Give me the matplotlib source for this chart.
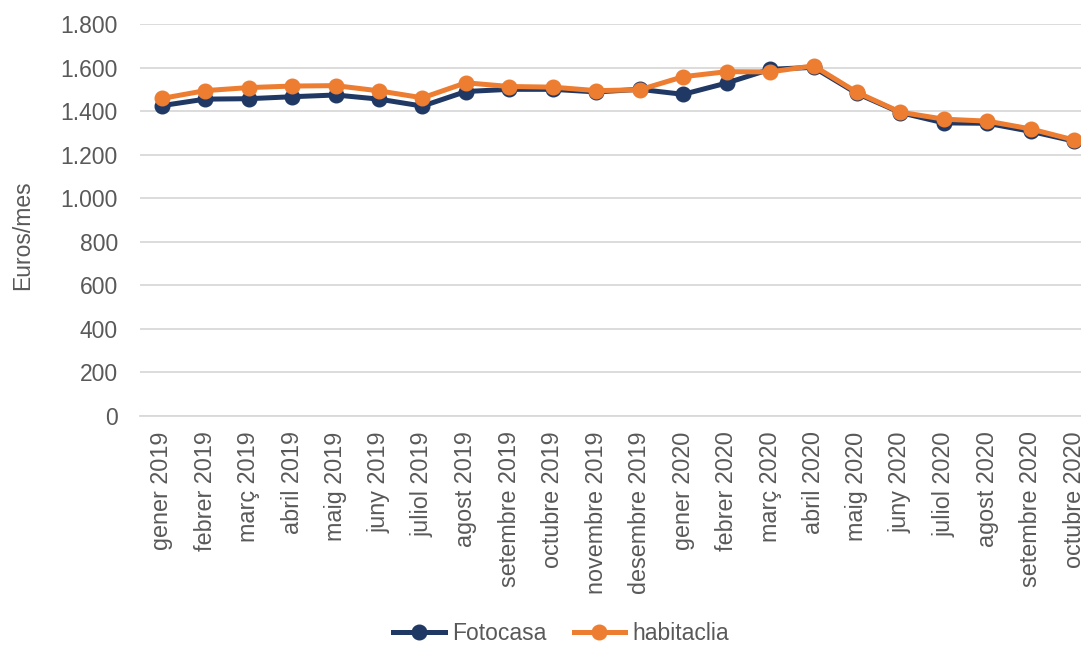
import numpy as np
import matplotlib.pyplot as plt

plt.rcParams['font.family'] = ['Liberation Sans', 'DejaVu Sans']

# monthly rent data
mesos = ['gener 2019', 'febrer 2019', 'març 2019', 'abril 2019', 'maig 2019',
         'juny 2019', 'juliol 2019', 'agost 2019', 'setembre 2019', 'octubre 2019',
         'novembre 2019', 'desembre 2019', 'gener 2020', 'febrer 2020', 'març 2020',
         'abril 2020', 'maig 2020', 'juny 2020', 'juliol 2020', 'agost 2020',
         'setembre 2020', 'octubre 2020']
fotocasa = [1425, 1455, 1457, 1466, 1474, 1455, 1423, 1490, 1500, 1500,
            1488, 1500, 1477, 1529, 1592, 1601, 1481, 1393, 1346, 1344,
            1307, 1262]
habitaclia = [1458, 1494, 1508, 1515, 1517, 1493, 1461, 1530, 1513, 1510,
              1494, 1498, 1558, 1581, 1580, 1608, 1486, 1395, 1363, 1354,
              1318, 1267]

gris = '#595959'
W, H = 1081, 646
fig = plt.figure(figsize=(W / 100, H / 100), dpi=100)
# plot area deliberately runs past the right edge, last label gets cut
ax = fig.add_axes([140 / W, (H - 416) / H, 956 / W, 392 / H])

x = np.arange(len(mesos))
ax.plot(x, fotocasa, color='#203864', lw=3.6, marker='o', ms=10.5,
        label='Fotocasa', zorder=3)
ax.plot(x, habitaclia, color='#ED7D31', lw=3.6, marker='o', ms=10.5,
        label='habitaclia', zorder=4)

ax.set_xlim(-0.5, len(mesos) - 0.5)
ax.set_ylim(0, 1800)
ax.set_yticks(np.arange(0, 1801, 200))
ax.set_yticklabels([f'{v:,}'.replace(',', '.') for v in range(0, 1801, 200)])
ax.set_xticks(x)
ax.set_xticklabels(mesos, rotation=90, va='top', ha='center')

ax.grid(axis='y', color='#D9D9D9', lw=1.3)
ax.set_axisbelow(True)
for s in ['top', 'right', 'left']:
    ax.spines[s].set_visible(False)
ax.spines['bottom'].set_color('#D9D9D9')
ax.spines['bottom'].set_linewidth(1.3)
ax.tick_params(axis='y', length=0, pad=16, labelsize=16.5, labelcolor=gris)
ax.tick_params(axis='x', length=0, pad=11, labelsize=16.8, labelcolor=gris)

fig.text(23 / W, (H - 235) / H, 'Euros/mes', rotation=90, ha='center',
         va='center', fontsize=16.5, color=gris)

leg = fig.legend(loc='center', bbox_to_anchor=(561 / W, 12 / H), ncol=2,
                 frameon=False, fontsize=16.5, handlelength=2.25,
                 handletextpad=0.3, columnspacing=1.2, borderaxespad=0)
for t in leg.get_texts():
    t.set_color(gris)

fig.savefig('out.png', dpi=100)
